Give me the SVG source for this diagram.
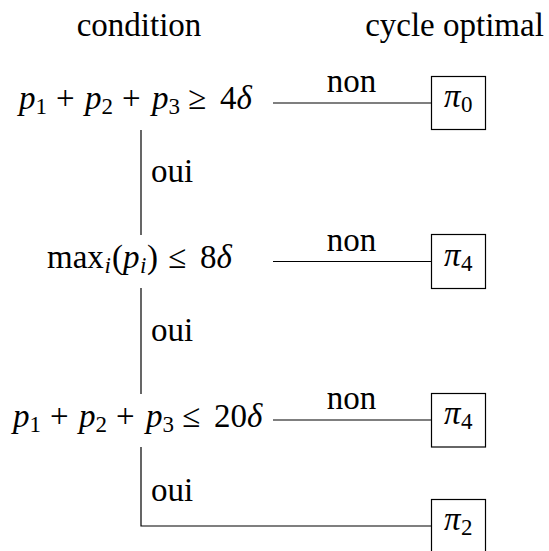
<svg xmlns="http://www.w3.org/2000/svg" width="549" height="551" viewBox="0 0 549 551">
<style>
.t{font-size:33px;fill:#000}
.it{font-style:italic}
.sub{font-size:23px}
.mid{text-anchor:middle}
.box{fill:#fff;stroke:#000;stroke-width:1.2}
.edge{fill:none;stroke:#000;stroke-width:1.2}
</style>
<rect width="549" height="551" fill="#fff"/>
<g font-family="Liberation Serif" font-size="33">
<g id="headers">
<text class="t mid" x="139" y="36">condition</text>
<text class="t mid" x="454.5" y="36">cycle optimal</text>
</g>
<g id="connectors">
<line class="edge" x1="273" y1="103" x2="431.5" y2="103"/>
<line class="edge" x1="273" y1="261.5" x2="431.5" y2="261.5"/>
<line class="edge" x1="273" y1="420" x2="431.5" y2="420"/>
<line class="edge" x1="141" y1="130" x2="141" y2="235"/>
<line class="edge" x1="141" y1="288" x2="141" y2="394"/>
<path class="edge" d="M141,447 V526 H431.5"/>
</g>
<g id="edge-labels">
<text class="t mid" x="351.5" y="92">non</text>
<text class="t mid" x="351.5" y="250.5">non</text>
<text class="t mid" x="351.5" y="409">non</text>
<text class="t" x="151" y="182">oui</text>
<text class="t" x="151" y="341">oui</text>
<text class="t" x="151" y="501">oui</text>
</g>
<g id="cond1">
<text class="t it" x="19" y="109">p</text><text class="t sub" x="35.5" y="114">1</text>
<text class="t" x="56" y="109">+</text>
<text class="t it" x="85" y="109">p</text><text class="t sub" x="101.5" y="114">2</text>
<text class="t" x="122" y="109">+</text>
<text class="t it" x="152" y="109">p</text><text class="t sub" x="168.5" y="114">3</text>
<text class="t" x="188" y="109">≥</text>
<text class="t" x="220" y="109">4</text><text class="t it" x="236.5" y="109">δ</text>
</g>
<g id="cond2">
<text class="t" x="47" y="268">max</text><text class="t sub it" x="104.5" y="273">i</text>
<text class="t" x="112" y="268">(</text>
<text class="t it" x="123" y="268">p</text><text class="t sub it" x="140" y="273">i</text>
<text class="t" x="147" y="268">)</text>
<text class="t" x="168" y="268">≤</text>
<text class="t" x="200" y="268">8</text><text class="t it" x="216.5" y="268">δ</text>
</g>
<g id="cond3">
<text class="t it" x="13" y="427">p</text><text class="t sub" x="29.5" y="432">1</text>
<text class="t" x="50" y="427">+</text>
<text class="t it" x="79" y="427">p</text><text class="t sub" x="95.5" y="432">2</text>
<text class="t" x="116" y="427">+</text>
<text class="t it" x="146" y="427">p</text><text class="t sub" x="162.5" y="432">3</text>
<text class="t" x="182" y="427">≤</text>
<text class="t" x="214" y="427">20</text><text class="t it" x="247" y="427">δ</text>
</g>
<g id="res0">
<rect class="box" x="431.5" y="76.5" width="54" height="53"/>
<text class="t it" x="444" y="107">π</text><text class="t sub" x="461" y="112">0</text>
</g>
<g id="res4a">
<rect class="box" x="431.5" y="234.5" width="54" height="54"/>
<text class="t it" x="444" y="265.5">π</text><text class="t sub" x="461" y="270.5">4</text>
</g>
<g id="res4b">
<rect class="box" x="431.5" y="393.5" width="54" height="53.5"/>
<text class="t it" x="444" y="424">π</text><text class="t sub" x="461" y="429">4</text>
</g>
<g id="res2">
<rect class="box" x="431.5" y="499.5" width="54" height="54"/>
<text class="t it" x="444" y="530">π</text><text class="t sub" x="461" y="535">2</text>
</g>
</g>
</svg>
